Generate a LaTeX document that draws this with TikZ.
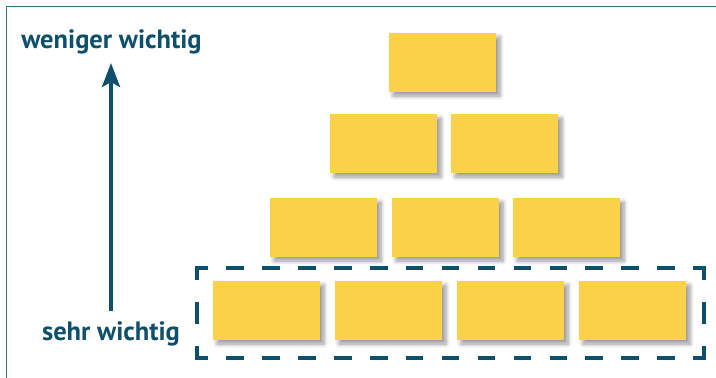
\documentclass[tikz,border=0pt]{standalone}
\usepackage{fontspec}
\setmainfont{PT Sans}
\usetikzlibrary{arrows.meta,shadows.blur}
\definecolor{teal}{RGB}{14,80,107}
\definecolor{frameteal}{RGB}{60,110,135}
\definecolor{brick}{RGB}{252,209,74}
\tikzset{
  brickbox/.style={rectangle, fill=brick, minimum width=107pt, minimum height=59pt, inner sep=0pt,
    blur shadow={shadow xshift=4pt, shadow yshift=-4pt, shadow blur steps=6, shadow blur radius=4pt, shadow opacity=40}},
  lbl/.style={text=teal, font=\fontsize{26.5}{30}\selectfont\bfseries, anchor=base, inner sep=0pt},
  selline/.style={draw=teal, line width=3.5pt},
}
\begin{document}
\begin{tikzpicture}[x=1pt,y=-1pt]
\useasboundingbox (0,0) rectangle (716,378);
% frame (top and left edges visible)
\draw[frameteal, line width=1.6pt] (6.5,378) -- (6.5,6.5) -- (716,6.5);
% labels
\node[lbl] (hi) at (111.5,48) {weniger wichtig};
\node[lbl] (lo) at (111,340) {sehr wichtig};
\coordinate (atip) at (111,63);
\coordinate (abase) at (111,311);
\draw[teal, line width=4pt, -{Stealth[length=24pt,width=18pt,inset=5pt]}] (abase) -- (atip);
% bricks
\node[brickbox] (r1a) at (442.5,62.5) {};
\node[brickbox] (r2a) at (383.5,143.5) {};
\node[brickbox] (r2b) at (504.5,143.5) {};
\node[brickbox] (r3a) at (323.5,227.5) {};
\node[brickbox] (r3b) at (445.5,227.5) {};
\node[brickbox] (r3c) at (566.5,227.5) {};
\node[brickbox] (r4a) at (266.5,310.5) {};
\node[brickbox] (r4b) at (388.5,310.5) {};
\node[brickbox] (r4c) at (510.5,310.5) {};
\node[brickbox] (r4d) at (632.5,310.5) {};
% dashed selection frame
\coordinate (s1) at (197,268);
\coordinate (s2) at (704,268);
\coordinate (s3) at (704,358);
\coordinate (s4) at (197,358);
% corners
\draw[selline, line join=miter] ([yshift=-12pt]s1) -- (s1) -- ([xshift=11pt]s1);
\draw[selline, line join=miter] ([xshift=-11pt]s2) -- (s2) -- ([yshift=-12pt]s2);
\draw[selline, line join=miter] ([yshift=12pt]s3) -- (s3) -- ([xshift=-11pt]s3);
\draw[selline, line join=miter] ([xshift=11pt]s4) -- (s4) -- ([yshift=12pt]s4);
% side dashes
\foreach \i in {0,...,12} {
  \draw[selline] ([xshift={11+18.4+\i*35.9}]s1) -- ([xshift={11+18.4+17.5+\i*35.9}]s1);
  \draw[selline] ([xshift={11+18.4+\i*35.9}]s4) -- ([xshift={11+18.4+17.5+\i*35.9}]s4);
}
\draw[selline] ([yshift=-34pt]s1) -- ([yshift=-56pt]s1);
\draw[selline] ([yshift=-34pt]s2) -- ([yshift=-56pt]s2);
\end{tikzpicture}
\end{document}
